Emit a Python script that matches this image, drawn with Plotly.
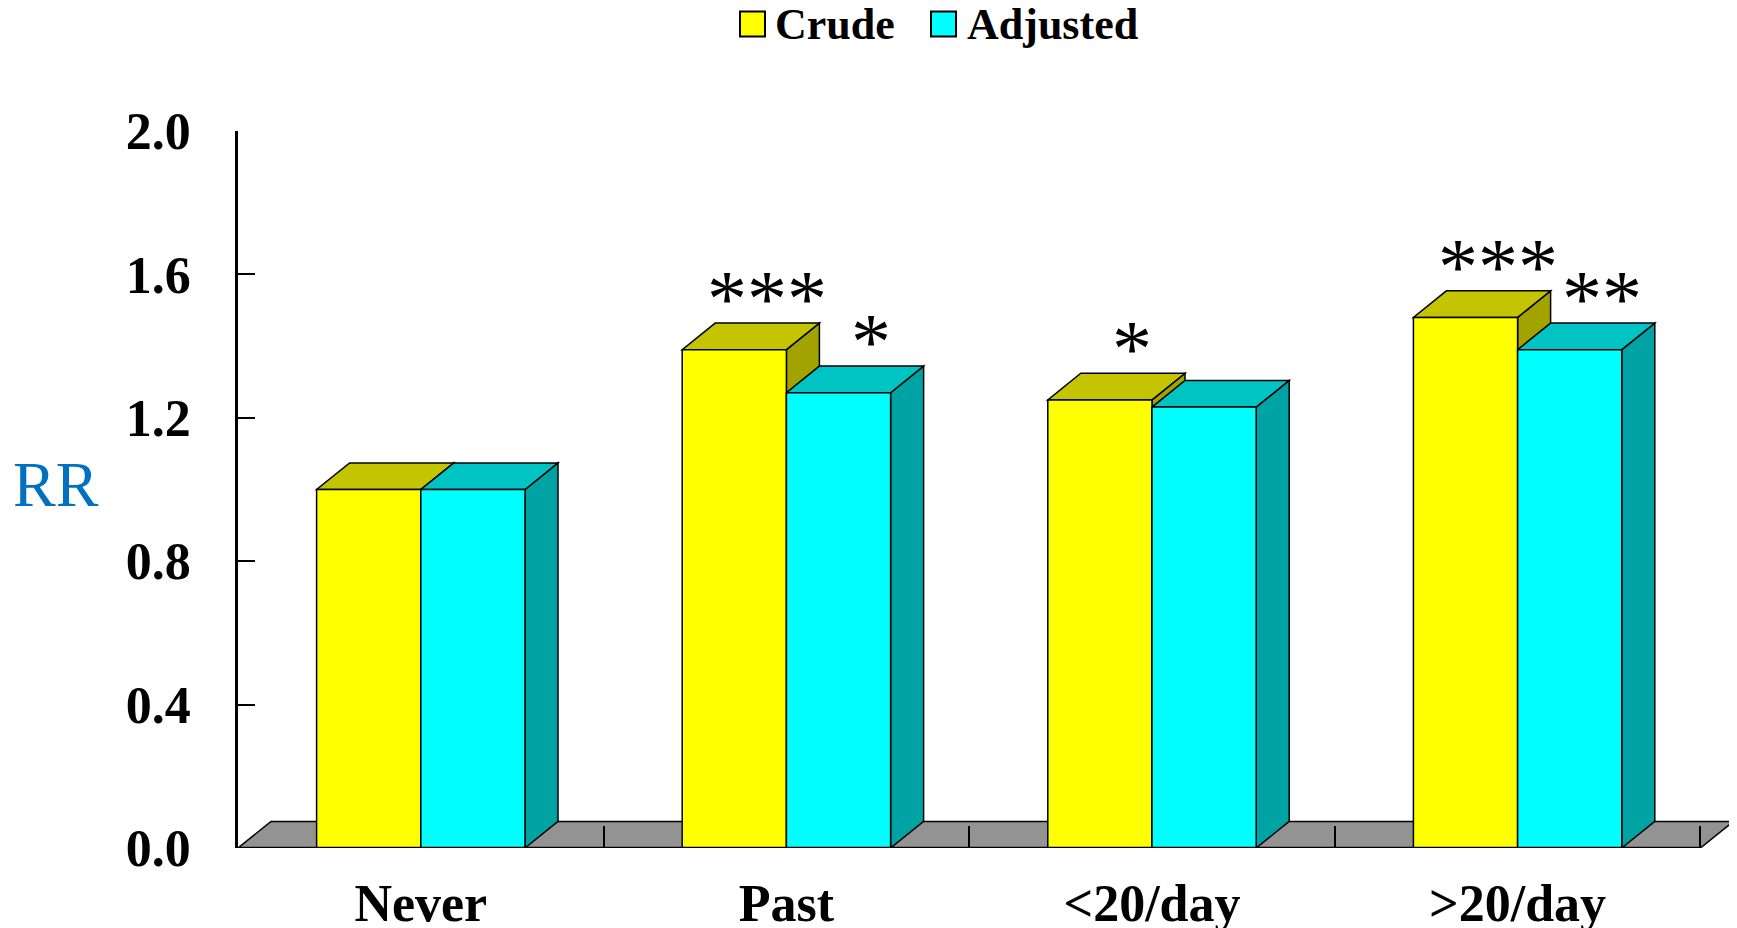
import plotly.graph_objects as go

# ---------------- data ----------------
categories = ["Never", "Past", "<20/day", ">20/day"]
series_names = ["Crude", "Adjusted"]
crude = [1.00, 1.39, 1.25, 1.48]
adjusted = [1.00, 1.27, 1.23, 1.39]
crude_sig = ["", "***", "*", "***"]
adjusted_sig = ["", "*", "", "**"]
y_tick_vals = [0.0, 0.4, 0.8, 1.2, 1.6, 2.0]
y_tick_text = ["0.0", "0.4", "0.8", "1.2", "1.6", "2.0"]

# ---------------- layout constants ----------------
W, H = 1737, 928
PAGE_OFF = 8  # default body margin of the html page
ML, MT = 238 - PAGE_OFF, 131 - PAGE_OFF
PW, PH = 1499, 717
MR = W - ML - PW
MB = H - MT - PH
PX_PER_CAT = 365.6
X0, X1 = -0.5, -0.5 + PW / PX_PER_CAT
Y0, Y1 = 0.0, 2.0
DEPTH_X_PX, DEPTH_Y_PX = 33, 26.6
ddx = DEPTH_X_PX * (X1 - X0) / PW
ddy = DEPTH_Y_PX * (Y1 - Y0) / PH
BAR_W = 0.285
SERIF = "Liberation Serif, Times New Roman, serif"

colors = {
    "Crude": ("#FFFF00", "#C4C400", "#A3A300"),
    "Adjusted": ("#00FFFF", "#00C4C4", "#00A3A3"),
}
values = {"Crude": crude, "Adjusted": adjusted}
sigs = {"Crude": crude_sig, "Adjusted": adjusted_sig}
offsets = {"Crude": -BAR_W / 2, "Adjusted": BAR_W / 2}

fig = go.Figure()
shapes = []
annotations = []

n = len(categories)
# floor
shapes.append(dict(
    type="path", xref="x", yref="y", layer="below",
    path=f"M {X0},0 L {n - 0.5},0 L {n - 0.5 + ddx},{ddy} L {X0 + ddx},{ddy} Z",
    fillcolor="#939393", line=dict(color="black", width=1.5),
))

for name in series_names:
    front, top, side = colors[name]
    xs = [i + offsets[name] for i in range(n)]
    fig.add_trace(go.Bar(
        x=xs, y=values[name], width=BAR_W, name=name,
        marker=dict(color=front, line=dict(color="black", width=1.5)),
        showlegend=False,
    ))
    for i, v in enumerate(values[name]):
        xl = xs[i] - BAR_W / 2
        xr = xs[i] + BAR_W / 2
        shapes.append(dict(
            type="path", xref="x", yref="y", layer="below",
            path=f"M {xr},0 L {xr},{v} L {xr + ddx},{v + ddy} L {xr + ddx},{ddy} Z",
            fillcolor=side, line=dict(color="black", width=1.5),
        ))
        shapes.append(dict(
            type="path", xref="x", yref="y", layer="below",
            path=f"M {xl},{v} L {xr},{v} L {xr + ddx},{v + ddy} L {xl + ddx},{v + ddy} Z",
            fillcolor=top, line=dict(color="black", width=1.5),
        ))
        s = sigs[name][i]
        if s:
            annotations.append(dict(
                x=xs[i] + ddx / 2, y=v + ddy, xref="x", yref="y",
                text=s, showarrow=False, xanchor="center", yanchor="middle",
                xshift=16, yshift=24,
                font=dict(family=SERIF, size=80, color="black"),
            ))

# front edge of the floor (x axis line)
shapes.append(dict(
    type="line", xref="x", yref="y", layer="above",
    x0=X0, x1=n - 0.5, y0=0, y1=0, line=dict(color="black", width=2.5),
))

# legend drawn as boxes + text (positions in page pixels)
leg_items = [("Crude", 740, 773), ("Adjusted", 931, 965)]
BOX = 25
LEG_Y = 24
def px_to_paper_x(px):
    return (px - PAGE_OFF - ML) / PW
def px_to_paper_y(py):
    return (MT + PH - (py - PAGE_OFF)) / PH
for name, bx, tx in leg_items:
    shapes.append(dict(
        type="rect", xref="paper", yref="paper",
        x0=px_to_paper_x(bx), x1=px_to_paper_x(bx + BOX),
        y0=px_to_paper_y(LEG_Y + BOX / 2), y1=px_to_paper_y(LEG_Y - BOX / 2),
        fillcolor=colors[name][0], line=dict(color="black", width=2),
    ))
    annotations.append(dict(
        x=px_to_paper_x(tx), y=px_to_paper_y(LEG_Y), xref="paper", yref="paper",
        text=f"<b>{name}</b>", showarrow=False, xanchor="left", yanchor="middle",
        font=dict(family=SERIF, size=44, color="black"),
    ))

# y-axis title "RR"
annotations.append(dict(
    x=px_to_paper_x(56), y=px_to_paper_y(484), xref="paper", yref="paper",
    text="RR", showarrow=False, xanchor="center", yanchor="middle",
    font=dict(family=SERIF, size=64, color="#0070C0"),
))

fig.update_layout(
    width=W, height=H,
    margin=dict(l=ML, r=MR, t=MT, b=MB, pad=0, autoexpand=False),
    paper_bgcolor="white", plot_bgcolor="white",
    barmode="overlay",
    shapes=shapes, annotations=annotations,
    showlegend=False,
    xaxis=dict(
        range=[X0, X1], showgrid=False, zeroline=False, showline=False,
        automargin=False,
        tickmode="array", tickvals=list(range(n)), ticktext=categories,
        ticks="", ticklabelstandoff=20,
        tickfont=dict(family=SERIF, size=52, color="black", weight="bold"),
        minor=dict(tickmode="array", tickvals=[i + 0.5 for i in range(n)],
                   ticks="inside", ticklen=22, tickwidth=1.5, tickcolor="black"),
    ),
    yaxis=dict(
        range=[Y0, Y1], showgrid=False, zeroline=False,
        automargin=False,
        showline=True, linecolor="black", linewidth=2.5,
        tickmode="array", tickvals=y_tick_vals, ticktext=y_tick_text,
        ticks="inside", ticklen=17, tickwidth=2, tickcolor="black",
        ticklabelstandoff=34,
        tickfont=dict(family=SERIF, size=52, color="black", weight="bold"),
    ),
)

fig.write_html("out.html")
